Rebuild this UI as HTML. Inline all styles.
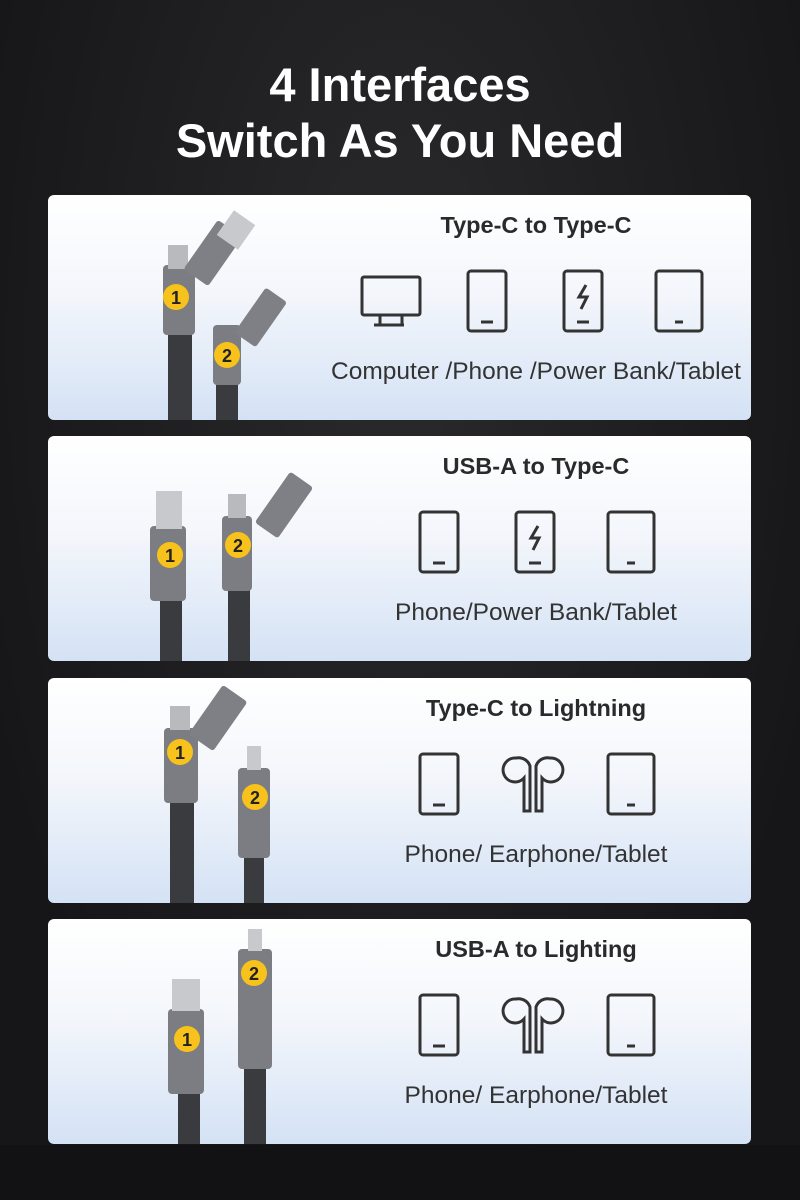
<!DOCTYPE html>
<html><head><meta charset="utf-8"><style>
body{margin:0;width:800px;height:1200px;overflow:hidden;background:#1b1b1d;font-family:"Liberation Sans",sans-serif}
.bg{position:absolute;left:0;top:0;width:800px;height:1145px;background:radial-gradient(ellipse at 50% 30%,#2a2a2d,#161618 80%)}
.bot{position:absolute;left:0;top:1145px;width:800px;height:55px;background:#121214}
h1{position:absolute;top:57px;left:0;width:800px;margin:0;text-align:center;color:#fff;font-size:47px;line-height:56px;font-weight:bold}
.card{position:absolute;left:48px;width:703px;height:225px;border-radius:6px;background:linear-gradient(180deg,#ffffff 0%,#f3f6fb 45%,#d4e2f5 100%);overflow:hidden}
.t{position:absolute;left:290px;width:396px;text-align:center;color:#2a2a2a;font-size:23.5px;font-weight:bold}
.l{position:absolute;left:260px;width:456px;text-align:center;color:#333;font-size:24.5px;white-space:nowrap}
svg{position:absolute;left:0;top:0}
</style></head><body>
<div class="bg"></div><div class="bot"></div>
<h1>4 Interfaces<br>Switch As You Need</h1>

<div class="card" style="top:195px"><div class="t" style="top:17px">Type-C to Type-C</div><div class="l" style="top:163px">Computer /Phone /Power Bank/Tablet</div>
<svg width="703" height="225">
<g fill="#3a3b3e"><rect x="120" y="120" width="24" height="105"/><rect x="168" y="170" width="22" height="55"/></g>
<rect x="115" y="70" width="32" height="70" rx="4" fill="#7c7d82"/><rect x="120" y="50" width="20" height="24" fill="#b9babd"/>
<rect x="150" y="28" width="30" height="60" rx="3" fill="#7e8085" transform="rotate(35 165 58)"/><rect x="175" y="20" width="26" height="30" fill="#c8c9cc" transform="rotate(35 188 35)"/>
<rect x="165" y="130" width="28" height="60" rx="4" fill="#7c7d82"/><rect x="200" y="95" width="26" height="55" rx="3" fill="#7e8085" transform="rotate(35 213 122)"/>
<circle cx="128" cy="102" r="13" fill="#f7c21b"/><text x="128" y="109" font-size="18" font-weight="bold" text-anchor="middle" fill="#222">1</text>
<circle cx="179" cy="160" r="13" fill="#f7c21b"/><text x="179" y="167" font-size="18" font-weight="bold" text-anchor="middle" fill="#222">2</text>
<g fill="none" stroke="#333" stroke-width="3">
<rect x="314" y="82" width="58" height="38" rx="2"/><path d="M332 120v10M354 120v10M326 130h30"/>
<rect x="420" y="76" width="38" height="60" rx="3"/><path d="M433 127h12"/>
<rect x="516" y="76" width="38" height="60" rx="3"/><path d="M529 127h12M538 90l-7 12h8l-6 12"/>
<rect x="608" y="76" width="46" height="60" rx="3"/><path d="M627 127h8"/></g></svg></div>

<div class="card" style="top:436px"><div class="t" style="top:17px">USB-A to Type-C</div><div class="l" style="top:163px">Phone/Power Bank/Tablet</div>
<svg width="703" height="225">
<g fill="#3a3b3e"><rect x="112" y="150" width="22" height="75"/><rect x="180" y="150" width="22" height="75"/></g>
<rect x="102" y="90" width="36" height="75" rx="4" fill="#7c7d82"/><rect x="108" y="55" width="26" height="38" fill="#c8c9cc"/>
<rect x="174" y="80" width="30" height="75" rx="4" fill="#7c7d82"/><rect x="180" y="58" width="18" height="24" fill="#b9babd"/>
<rect x="222" y="38" width="28" height="62" rx="3" fill="#7e8085" transform="rotate(35 236 69)"/>
<circle cx="122" cy="119" r="13" fill="#f7c21b"/><text x="122" y="126" font-size="18" font-weight="bold" text-anchor="middle" fill="#222">1</text>
<circle cx="190" cy="109" r="13" fill="#f7c21b"/><text x="190" y="116" font-size="18" font-weight="bold" text-anchor="middle" fill="#222">2</text>
<g fill="none" stroke="#333" stroke-width="3">
<rect x="372" y="76" width="38" height="60" rx="3"/><path d="M385 127h12"/>
<rect x="468" y="76" width="38" height="60" rx="3"/><path d="M481 127h12M490 90l-7 12h8l-6 12"/>
<rect x="560" y="76" width="46" height="60" rx="3"/><path d="M579 127h8"/></g></svg></div>

<div class="card" style="top:678px"><div class="t" style="top:17px">Type-C to Lightning</div><div class="l" style="top:163px">Phone/ Earphone/Tablet</div>
<svg width="703" height="225">
<g fill="#3a3b3e"><rect x="122" y="110" width="24" height="115"/><rect x="196" y="170" width="20" height="55"/></g>
<rect x="116" y="50" width="34" height="75" rx="4" fill="#7c7d82"/><rect x="122" y="28" width="20" height="24" fill="#b9babd"/>
<rect x="155" y="10" width="30" height="60" rx="3" fill="#7e8085" transform="rotate(35 170 40)"/>
<rect x="190" y="90" width="32" height="90" rx="4" fill="#7c7d82"/><rect x="199" y="68" width="14" height="24" fill="#c8c9cc"/>
<circle cx="132" cy="74" r="13" fill="#f7c21b"/><text x="132" y="81" font-size="18" font-weight="bold" text-anchor="middle" fill="#222">1</text>
<circle cx="207" cy="119" r="13" fill="#f7c21b"/><text x="207" y="126" font-size="18" font-weight="bold" text-anchor="middle" fill="#222">2</text>
<g fill="none" stroke="#333" stroke-width="3">
<rect x="372" y="76" width="38" height="60" rx="3"/><path d="M385 127h12"/>
<path d="M468 80a12 12 0 1 0 8 20v33h6V88a12 12 0 0 0-14-8zM502 80a12 12 0 1 1-8 20v33h-6V88a12 12 0 0 1 14-8z"/>
<rect x="560" y="76" width="46" height="60" rx="3"/><path d="M579 127h8"/></g></svg></div>

<div class="card" style="top:919px"><div class="t" style="top:17px">USB-A to Lighting</div><div class="l" style="top:163px">Phone/ Earphone/Tablet</div>
<svg width="703" height="225">
<g fill="#3a3b3e"><rect x="130" y="160" width="22" height="65"/><rect x="196" y="140" width="22" height="85"/></g>
<rect x="120" y="90" width="36" height="85" rx="4" fill="#7c7d82"/><rect x="124" y="60" width="28" height="32" fill="#c8c9cc"/>
<rect x="190" y="30" width="34" height="120" rx="4" fill="#7c7d82"/><rect x="200" y="10" width="14" height="22" fill="#c8c9cc"/>
<circle cx="139" cy="120" r="13" fill="#f7c21b"/><text x="139" y="127" font-size="18" font-weight="bold" text-anchor="middle" fill="#222">1</text>
<circle cx="206" cy="54" r="13" fill="#f7c21b"/><text x="206" y="61" font-size="18" font-weight="bold" text-anchor="middle" fill="#222">2</text>
<g fill="none" stroke="#333" stroke-width="3">
<rect x="372" y="76" width="38" height="60" rx="3"/><path d="M385 127h12"/>
<path d="M468 80a12 12 0 1 0 8 20v33h6V88a12 12 0 0 0-14-8zM502 80a12 12 0 1 1-8 20v33h-6V88a12 12 0 0 1 14-8z"/>
<rect x="560" y="76" width="46" height="60" rx="3"/><path d="M579 127h8"/></g></svg></div>
</body></html>
